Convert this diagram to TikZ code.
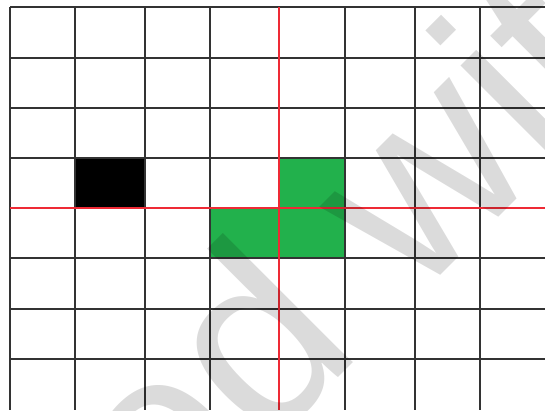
\documentclass[tikz,border=0pt]{standalone}
\usepackage{fontspec}
\newfontfamily\wmfont{Liberation Sans}
\definecolor{cellgreen}{HTML}{22B14C}
\definecolor{axisred}{HTML}{EE2A35}
\definecolor{gridline}{HTML}{333333}
\begin{document}
\begin{tikzpicture}[x=1pt,y=-1pt,
  gridln/.style={draw=gridline,line width=1.3pt},
  axisln/.style={draw=axisred,line width=1.4pt},
  greencell/.style={fill=cellgreen},
  blackcell/.style={fill=black},
  watermark/.style={text=black,text opacity=0.14,font=\wmfont\fontsize{253}{253}\selectfont,rotate=45,inner sep=0pt}]
\useasboundingbox (0,0) rectangle (545,410);
\fill[white] (0,0) rectangle (545,410);
% filled cells
\fill[blackcell] (75,158) rectangle (145,208);
\fill[greencell] (279,158) rectangle (345,208);
\fill[greencell] (210,208) rectangle (345,258);
% grid
\foreach \x in {10,75,145,210,279,345,415,480}
  \draw[gridln] (\x,7) -- (\x,410);
\foreach \y in {7,58,108,158,208,258,309,359}
  \draw[gridln] (10,\y) -- (545,\y);
% red axes
\draw[axisln] (279,7) -- (279,410);
\draw[axisln] (10,208) -- (545,208);
% watermark
\begin{scope}
\clip (0,0) rectangle (545,410);
\node[watermark,anchor=base] (wm) at (449,267) {ed with};
\end{scope}
\end{tikzpicture}
\end{document}
